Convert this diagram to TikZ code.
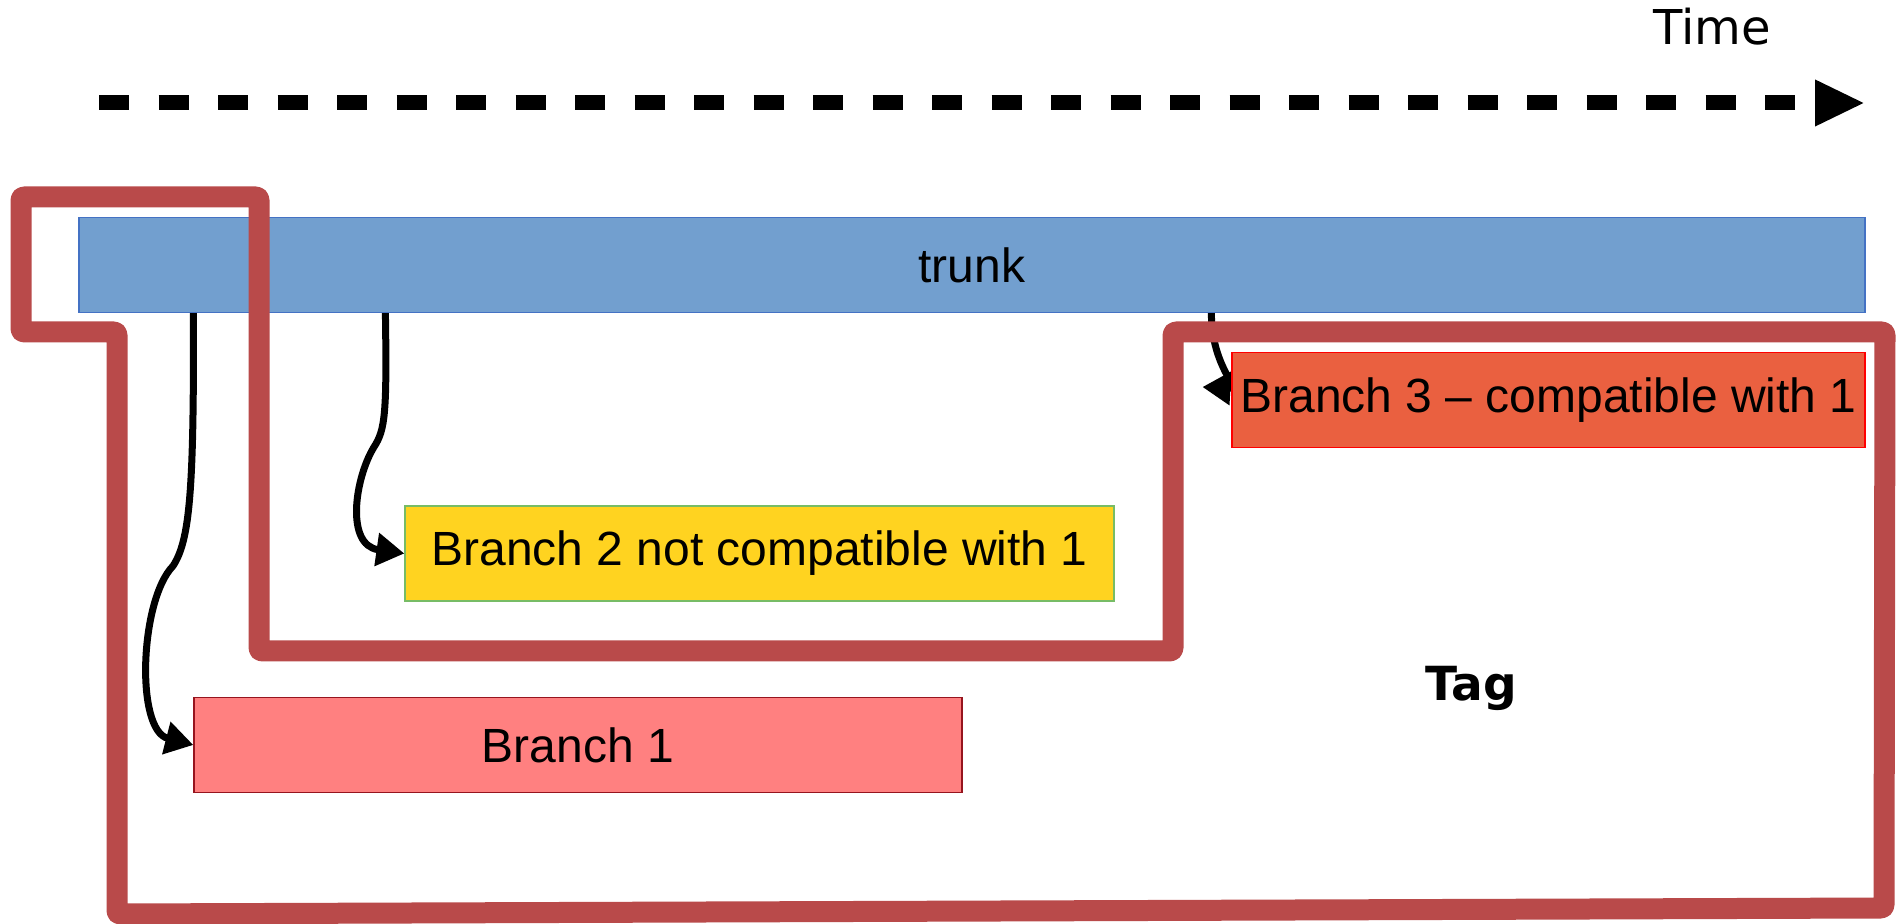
\documentclass[tikz,border=0pt]{standalone}
\usepackage{fontspec}
\setmainfont{Liberation Sans}
\newfontfamily\labelfont{DejaVu Sans}
\usetikzlibrary{arrows.meta,positioning,backgrounds}

\definecolor{trunkfill}{RGB}{114,159,207}
\definecolor{trunkdraw}{RGB}{68,114,196}
\definecolor{tagred}{RGB}{185,74,74}
\definecolor{bronefill}{RGB}{255,128,128}
\definecolor{bronedraw}{RGB}{150,20,30}
\definecolor{brtwofill}{RGB}{255,211,32}
\definecolor{brtwodraw}{RGB}{119,188,101}
\definecolor{brthreefill}{RGB}{234,96,64}

\begin{document}
\begin{tikzpicture}[
  x=0.5pt, y=-0.5pt,
  font=\fontsize{24}{28}\selectfont,
  bar/.style={draw,line width=0.6pt,inner sep=0pt,minimum height=47.5pt},
  link/.style={line width=3.5pt,-{Triangle[length=14pt,width=16pt]}},
  tagline/.style={draw=tagred,line width=10.5pt,rounded corners=1.5pt,line join=round}]
\useasboundingbox (0,0) rectangle (1897,924);

% time axis
\coordinate (t0) at (99,103);
\coordinate (t1) at (1865,103);
\draw[line width=7.5pt,dash pattern=on 15pt off 14.75pt,
      -{Triangle[length=25pt,width=21.5pt]}] (t0) -- (t1);
\node[font=\labelfont\fontsize{24}{28}\selectfont,anchor=base] (time) at (1712,45) {Time};

% trunk and branches
\node[bar,fill=trunkfill,draw=trunkdraw,minimum width=893pt] (trunk) at (972,265) {trunk};
\node[bar,fill=brthreefill,draw=red,minimum width=316.5pt] (br3) at (1548.5,400) {Branch 3 – compatible with 1};
\node[bar,fill=brtwofill,draw=brtwodraw,minimum width=354.5pt] (br2) at (759.5,553.5) {Branch 2 not compatible with 1};
\node[bar,fill=bronefill,draw=bronedraw,minimum width=384pt] (br1) at (578,745) {Branch 1};

\path (trunk.south west) ++(115,0) coordinate (fork1)
      ++(192,0) coordinate (fork2)
      ++(826,0) coordinate (fork3);

\begin{scope}[on background layer]
\draw[link] (fork1) .. controls (194,490) and (190,540) .. (173,566)
                    .. controls (140,600) and (135,730) .. (br1.west);
\draw[link] (fork2) .. controls (387,415) and (385,430) .. (374,447)
                    .. controls (355,478) and (345,545) .. (br2.west);
\draw[link] (fork3) .. controls +(0,55) and +(40,2) .. ([xshift=-14.5pt,yshift=6.5pt]br3.west);
\end{scope}

% the tag
\draw[tagline] (21,197) -- (259,197) -- (259,651) -- (1173,651) -- (1173,332)
  -- (1885,332) -- (1884,908) -- (117,914) -- (117,332) -- (21,332) -- cycle;
\node[font=\labelfont\bfseries\fontsize{23.5}{28}\selectfont,anchor=base] (tag) at (1471,701) {Tag};
\end{tikzpicture}
\end{document}
